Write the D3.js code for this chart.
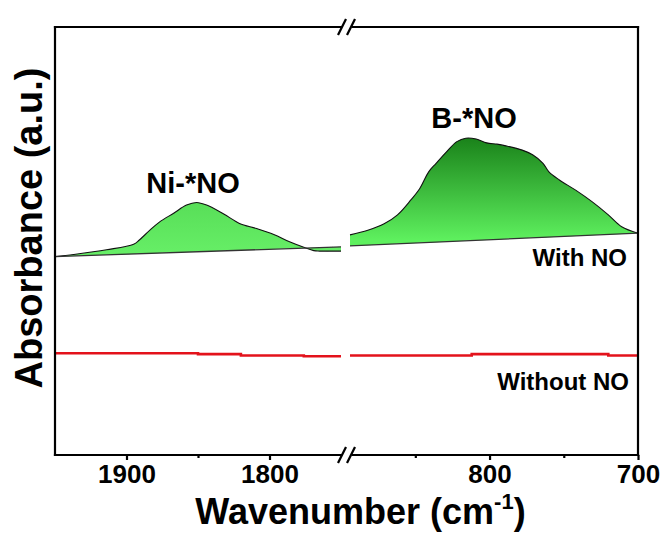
<!DOCTYPE html>
<html><head><meta charset="utf-8">
<script src="https://cdn.jsdelivr.net/npm/d3@7/dist/d3.min.js"></script>
<style>
html,body{margin:0;padding:0;background:#fff;}
svg{display:block;}
text{font-family:"Liberation Sans",Arial,sans-serif;font-weight:bold;fill:#000;}
</style></head>
<body>
<script>
// ---------- data ----------
const leftWavenumbers = [1950,1937,1914,1895,1891,1884,1877,1867,1858,1851,1844,1832,1821,1809,1797,1786,1776,1769,1765,1750];
const leftWithNO      = [0.461,0.466,0.477,0.490,0.500,0.522,0.542,0.563,0.582,0.588,0.582,0.561,0.539,0.527,0.513,0.496,0.483,0.475,0.474,0.474];
const leftBaselineWn  = [1950,1750];
const leftBaseline    = [0.461,0.484];

const rightWavenumbers = [894,882,871,862,853,847,841,836,829,822,816,809,802,795,789,778,771,764,760,753,742,731,720,711,700];
const rightWithNO      = [0.512,0.523,0.538,0.559,0.594,0.621,0.660,0.680,0.707,0.731,0.739,0.737,0.728,0.725,0.721,0.711,0.700,0.680,0.660,0.641,0.617,0.590,0.559,0.531,0.516];
const rightBaselineWn  = [894,700];
const rightBaseline    = [0.486,0.516];

const leftWithoutWn  = [1950,1850,1820,1776,1750];
const leftWithout    = [0.234,0.232,0.229,0.227,0.227];
const rightWithoutWn = [894,812,720,700];
const rightWithout   = [0.229,0.232,0.229,0.229];

const leftTicksMajor  = [1900,1800];
const leftTicksMinor  = [1850];
const rightTicksMajor = [800,700];
const rightTicksMinor = [850,750];

const peakLabels = ["Ni-*NO","B-*NO"];
const seriesLabels = ["With NO","Without NO"];
const xTitle = "Wavenumber (cm";
const yTitle = "Absorbance (a.u.)";

// ---------- layout ----------
const W = 667, H = 535;
const L = 55, R = 638, T = 27, B = 455;
const breakL = 341, breakR = 350;

const svg = d3.select("body").append("svg").attr("width",W).attr("height",H);

const xL = d3.scaleLinear().domain([1950,1750]).range([L,breakL]);
const xR = d3.scaleLinear().domain([894,700]).range([breakR,R]);
const y  = d3.scaleLinear().domain([0,1]).range([453,T]);

const defs = svg.append("defs");
const grad = defs.append("linearGradient").attr("id","gR")
  .attr("gradientUnits","userSpaceOnUse")
  .attr("x1",0).attr("x2",0).attr("y1",y(0.74)).attr("y2",y(0.50));
grad.append("stop").attr("offset","0%").attr("stop-color","#1a821a");
grad.append("stop").attr("offset","100%").attr("stop-color","#5ef05e");
const gradL = defs.append("linearGradient").attr("id","gL")
  .attr("gradientUnits","userSpaceOnUse")
  .attr("x1",0).attr("x2",0).attr("y1",y(0.59)).attr("y2",y(0.47));
gradL.append("stop").attr("offset","0%").attr("stop-color","#58de58");
gradL.append("stop").attr("offset","100%").attr("stop-color","#66ee66");

function panel(xs, wn, vals, bwn, bvals, fill){
  const base = d3.scaleLinear().domain(bwn).range(bvals);
  const pts = wn.map((w,i)=>({w, v:vals[i]}));
  const area = d3.area().x(d=>xs(d.w)).y0(d=>y(base(d.w))).y1(d=>y(d.v)).curve(d3.curveCatmullRom.alpha(0.5));
  svg.append("path").datum(pts).attr("d",area).attr("fill",fill);
  const line = d3.line().x(d=>xs(d.w)).y(d=>y(d.v)).curve(d3.curveCatmullRom.alpha(0.5));
  svg.append("path").datum(pts).attr("d",line).attr("fill","none").attr("stroke","#111").attr("stroke-width",1.1);
  const bl = d3.line().x(d=>xs(d)).y(d=>y(base(d)));
  svg.append("path").datum(bwn).attr("d",bl).attr("fill","none").attr("stroke","#333").attr("stroke-width",1.3);
}
panel(xL, leftWavenumbers, leftWithNO, leftBaselineWn, leftBaseline, "url(#gL)");
panel(xR, rightWavenumbers, rightWithNO, rightBaselineWn, rightBaseline, "url(#gR)");

function redLine(xs, wn, vals){
  const pts = wn.map((w,i)=>({w,v:vals[i]}));
  const line = d3.line().x(d=>xs(d.w)).y(d=>y(d.v)).curve(d3.curveStepAfter);
  svg.append("path").datum(pts).attr("d",line).attr("fill","none").attr("stroke","#e3121b").attr("stroke-width",2.6);
}
redLine(xL, leftWithoutWn, leftWithout);
redLine(xR, rightWithoutWn, rightWithout);

// ---------- frame ----------
const frame = svg.append("g").attr("stroke","#000").attr("stroke-width",2.2).attr("fill","none").attr("stroke-linecap","square");
frame.append("line").attr("x1",L).attr("x2",L).attr("y1",T).attr("y2",B);
frame.append("line").attr("x1",R).attr("x2",R).attr("y1",T).attr("y2",B);
[T,B].forEach(yy=>{
  frame.append("line").attr("x1",L).attr("x2",breakL).attr("y1",yy).attr("y2",yy);
  frame.append("line").attr("x1",breakR+3).attr("x2",R).attr("y1",yy).attr("y2",yy);
  [breakL+1, breakR+1].forEach(cx=>{
    frame.append("line").attr("x1",cx-4).attr("x2",cx+4).attr("y1",yy+8).attr("y2",yy-8).attr("stroke-linecap","butt");
  });
});

// ---------- axes ----------
function ax(xs, major, minor){
  const gMaj = svg.append("g").attr("transform",`translate(0,${B})`)
    .call(d3.axisBottom(xs).tickValues(major).tickSize(5).tickPadding(5).tickFormat(d3.format("d")));
  gMaj.select(".domain").remove();
  gMaj.selectAll(".tick line").attr("stroke","#000").attr("stroke-width",2.2);
  gMaj.selectAll(".tick text").style("font-size","26px").style("font-family","Liberation Sans, Arial, sans-serif").style("font-weight","bold").attr("fill","#000");
  const gMin = svg.append("g").attr("transform",`translate(0,${B})`)
    .call(d3.axisBottom(xs).tickValues(minor).tickSize(3).tickFormat(""));
  gMin.select(".domain").remove();
  gMin.selectAll(".tick line").attr("stroke","#000").attr("stroke-width",2.2);
}
ax(xL, leftTicksMajor, leftTicksMinor);
ax(xR, rightTicksMajor, rightTicksMinor);

// ---------- titles ----------
const xt = svg.append("text").attr("x",(L+R)/2+14).attr("y",524).attr("text-anchor","middle").style("font-size","36px");
xt.append("tspan").text(xTitle);
xt.append("tspan").text("-1").style("font-size","22px").attr("dy",-15);
xt.append("tspan").text(")").attr("dy",15);

svg.append("text").attr("transform","translate(42,228) rotate(-90)").attr("text-anchor","middle").style("font-size","38px").text(yTitle);

// ---------- annotations ----------
svg.append("text").attr("x",193).attr("y",193).attr("text-anchor","middle").style("font-size","29px").text(peakLabels[0]);
svg.append("text").attr("x",474).attr("y",128).attr("text-anchor","middle").style("font-size","29px").text(peakLabels[1]);
svg.append("text").attr("x",627).attr("y",266).attr("text-anchor","end").style("font-size","24px").text(seriesLabels[0]);
svg.append("text").attr("x",629).attr("y",390).attr("text-anchor","end").style("font-size","24px").text(seriesLabels[1]);
</script>
</body></html>
